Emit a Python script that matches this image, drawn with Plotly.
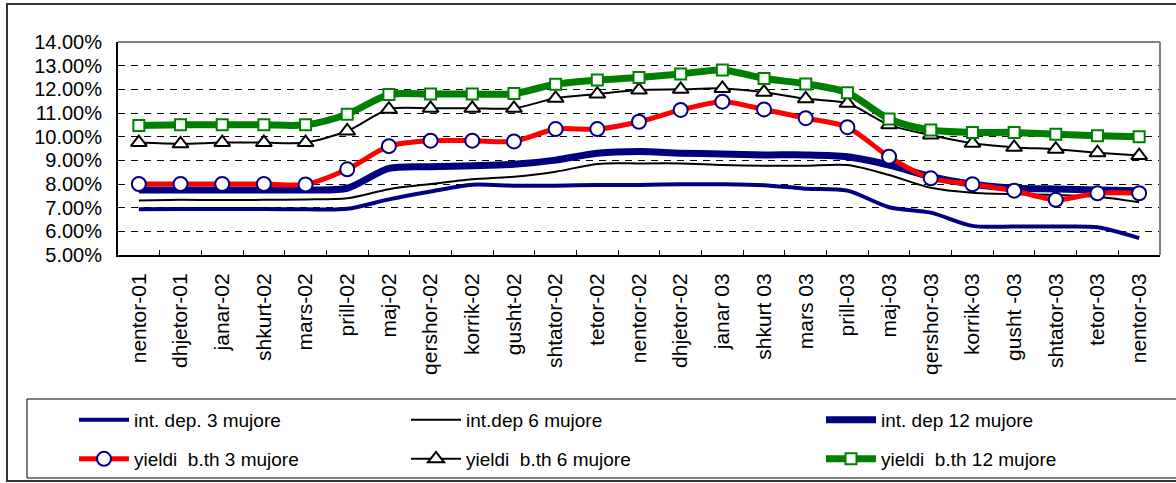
import plotly.graph_objects as go

# Monthly categories
months = ["nentor-01", "dhjetor-01", "janar-02", "shkurt-02", "mars-02", "prill-02",
          "maj-02", "qershor-02", "korrik-02", "gusht-02", "shtator-02", "tetor-02",
          "nentor-02", "dhjetor-02", "janar 03", "shkurt 03", "mars 03", "prill-03",
          "maj-03", "qershor-03", "korrik-03", "gusht -03", "shtator-03", "tetor-03",
          "nentor-03"]

# Deposit interest rates (%)
int_dep_3 = [6.93, 6.94, 6.94, 6.94, 6.93, 6.95, 7.35, 7.68, 7.97, 7.93, 7.93, 7.96,
             7.96, 7.99, 7.99, 7.95, 7.80, 7.72, 7.02, 6.79, 6.23, 6.20, 6.20, 6.17, 5.71]
int_dep_6 = [7.30, 7.33, 7.32, 7.33, 7.35, 7.40, 7.78, 8.00, 8.20, 8.31, 8.52, 8.85,
             8.87, 8.87, 8.80, 8.77, 8.77, 8.80, 8.38, 7.84, 7.63, 7.57, 7.54, 7.46, 7.23]
int_dep_12 = [7.75, 7.75, 7.75, 7.75, 7.75, 7.82, 8.66, 8.73, 8.77, 8.83, 9.01, 9.30,
              9.37, 9.30, 9.27, 9.23, 9.23, 9.15, 8.80, 8.31, 7.99, 7.82, 7.79, 7.75, 7.72]

# Treasury bill yields (%)
yield_3 = [8.00, 8.00, 8.00, 8.00, 7.98, 8.62, 9.60, 9.83, 9.83, 9.80, 10.32, 10.32,
           10.63, 11.13, 11.48, 11.15, 10.78, 10.40, 9.15, 8.24, 7.99, 7.72, 7.33, 7.61, 7.61]
yield_6 = [9.75, 9.70, 9.75, 9.75, 9.75, 10.24, 11.16, 11.20, 11.20, 11.20, 11.62, 11.80,
           11.97, 12.00, 12.04, 11.88, 11.60, 11.41, 10.50, 10.07, 9.72, 9.55, 9.47, 9.32, 9.20]
yield_12 = [10.47, 10.50, 10.50, 10.50, 10.50, 10.95, 11.78, 11.80, 11.80, 11.82, 12.22, 12.39,
            12.50, 12.65, 12.82, 12.46, 12.23, 11.86, 10.75, 10.28, 10.18, 10.18, 10.10, 10.04, 10.00]

y_ticks = [5, 6, 7, 8, 9, 10, 11, 12, 13, 14]
y_tick_text = [f"{v:.2f}%" for v in y_ticks]

W, H = 1176, 483
ML, MR, MT, MB = 118, 16, 42, 228
PW, PH = W - ML - MR, H - MT - MB
FONT = "Liberation Sans, Arial, sans-serif"
NAVY, GREEN, RED = "#000080", "#008000", "#FF0000"


def px_x(px):
    return (px - ML) / PW


def px_y(py):
    return (H - MB - py) / PH


fig = go.Figure()


def add(name, y, color, width, legend, marker=None):
    kw = dict(mode="lines")
    if marker:
        kw = dict(mode="lines+markers", marker=marker)
    fig.add_trace(go.Scatter(
        x=months, y=y, name=name, legend=legend,
        line=dict(color=color, width=width, shape="spline", smoothing=0.8),
        **kw))


add("int. dep. 3 mujore", int_dep_3, NAVY, 4, "legend")
add("int.dep 6 mujore", int_dep_6, "#000000", 2, "legend2")
add("int. dep 12 mujore", int_dep_12, NAVY, 7, "legend3")
add("yieldi  b.th 3 mujore", yield_3, RED, 5, "legend4",
    dict(symbol="circle", size=14, color="white", line=dict(color=NAVY, width=2)))
add("yieldi  b.th 6 mujore", yield_6, "#000000", 2, "legend5",
    dict(symbol="triangle-up", size=14, color="white", line=dict(color="#000000", width=2)))
add("yieldi  b.th 12 mujore", yield_12, GREEN, 7, "legend6",
    dict(symbol="square", size=11, color="white", line=dict(color=GREEN, width=2)))

# legend columns (text start) and rows (item top), in pixels
col_text = [131, 463, 878]
row_top = [401, 440]
ITEM_W = 50
legends = {}
for i in range(6):
    r, c = divmod(i, 3)
    key = "legend" if i == 0 else f"legend{i + 1}"
    legends[key] = dict(
        x=px_x(col_text[c] - ITEM_W - 7), xanchor="left",
        y=px_y(row_top[r]), yanchor="top",
        bgcolor="rgba(0,0,0,0)", borderwidth=0,
        font=dict(family=FONT, size=19, color="#000000"),
        itemwidth=ITEM_W,
    )

shapes = [
    # outer chart frame
    dict(type="rect", xref="paper", yref="paper",
         x0=px_x(7), x1=px_x(1185), y0=px_y(481), y1=px_y(4),
         line=dict(color="#333333", width=2), layer="below"),
    # legend frame
    dict(type="rect", xref="paper", yref="paper",
         x0=px_x(27), x1=px_x(1185), y0=px_y(478), y1=px_y(399),
         line=dict(color="#000000", width=1), layer="below"),
    # top and right plot-area borders
    dict(type="line", xref="paper", yref="paper", x0=0, x1=1, y0=1, y1=1,
         line=dict(color="#808080", width=2)),
    dict(type="line", xref="paper", yref="paper", x0=1, x1=1, y0=0, y1=1,
         line=dict(color="#808080", width=2)),
]

fig.update_layout(
    width=W, height=H,
    margin=dict(l=ML, r=MR, t=MT, b=MB, autoexpand=False),
    paper_bgcolor="white", plot_bgcolor="white",
    font=dict(family=FONT, color="#000000"),
    showlegend=True,
    shapes=shapes,
    **legends,
)

fig.update_xaxes(
    type="category", range=[-0.5, len(months) - 0.5],
    showline=True, linecolor="#000000", linewidth=2,
    ticks="inside", tickson="boundaries", ticklen=5, tickcolor="#000000", tickwidth=1,
    tickangle=-90, tickfont=dict(family=FONT, size=21),
    ticklabelstandoff=8,
    showgrid=False, zeroline=False,
)
fig.update_yaxes(
    range=[5, 14], tickmode="array", tickvals=y_ticks, ticktext=y_tick_text,
    showline=True, linecolor="#000000", linewidth=2,
    ticks="", tickfont=dict(family=FONT, size=20),
    ticklabelstandoff=10,
    showgrid=True, gridcolor="#000000", gridwidth=1, griddash="7px,6px",
    zeroline=False,
)

fig.write_html("out.html")
